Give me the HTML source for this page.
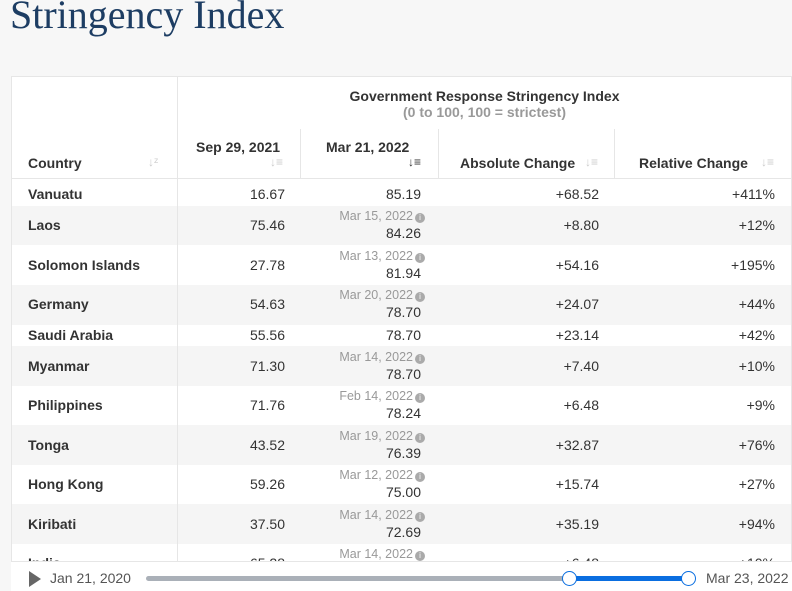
<!DOCTYPE html>
<html><head><meta charset="utf-8"><style>
*{margin:0;padding:0;box-sizing:border-box}
body{width:792px;height:591px;overflow:hidden;background:#f7f7f7;font-family:"Liberation Sans",sans-serif;color:#333;position:relative}
.title{position:absolute;left:10px;top:-9px;font-family:"Liberation Serif",serif;font-size:40px;color:#1d3d63;white-space:nowrap}
.card{position:absolute;left:11px;top:76px;width:781px;height:515px;background:#fff;border:1px solid #e6e6e6;overflow:hidden}
.a{position:absolute;white-space:nowrap;font-size:14px}
.r{text-align:right}
.b{font-weight:bold}
.g{color:#999;font-size:12.5px}
.row{position:absolute;left:0;width:781px}
.vl{position:absolute;width:1px;background:#e6e6e6}
.i{display:inline-block;width:10px;height:10px;border-radius:50%;background:#aaa;color:#fff;font-size:8px;line-height:10px;text-align:center;margin-left:2px;vertical-align:0}
.s{color:#ccc;font-size:12px}
</style></head><body>
<div class="title">Stringency Index</div>
<div class="card">
<div class="row" style="top:129px;height:39px;background:#f5f5f5"></div>
<div class="row" style="top:208px;height:40px;background:#f5f5f5"></div>
<div class="row" style="top:269px;height:40px;background:#f5f5f5"></div>
<div class="row" style="top:348px;height:40px;background:#f5f5f5"></div>
<div class="row" style="top:427px;height:40px;background:#f5f5f5"></div>
<div class="row" style="top:101px;height:1px;background:#e6e6e6"></div>
<div class="vl" style="left:165px;top:0;height:515px"></div>
<div class="vl" style="left:288px;top:52px;height:49px"></div>
<div class="vl" style="left:426px;top:52px;height:49px"></div>
<div class="vl" style="left:602px;top:52px;height:49px"></div>
<div class="a b" style="left:165px;width:615px;text-align:center;top:11px">Government Response Stringency Index</div>
<div class="a b" style="left:165px;width:615px;text-align:center;top:27px;color:#999">(0 to 100, 100 = strictest)</div>
<div class="a b" style="left:16px;top:78px">Country</div><div class="a s" style="left:136px;top:78px">↓ᶻ</div>
<div class="a b" style="left:184px;top:62px">Sep 29, 2021</div><div class="a s" style="left:258px;top:78px">↓≡</div>
<div class="a b" style="left:314px;top:62px">Mar 21, 2022</div><div class="a" style="left:396px;top:78px;color:#333;font-size:12px">↓≡</div>
<div class="a b" style="left:448px;top:78px">Absolute Change</div><div class="a s" style="left:573px;top:78px">↓≡</div>
<div class="a b" style="left:627px;top:78px">Relative Change</div><div class="a s" style="left:749px;top:78px">↓≡</div>
<div id="rows"></div>
</div>
<div style="position:absolute;left:11px;top:561px;width:781px;height:30px;background:#fff;border-top:1px solid #e6e6e6"></div>
<div style="position:absolute;left:29px;top:571px;width:0;height:0;border-left:12px solid #666;border-top:8px solid transparent;border-bottom:8px solid transparent"></div>
<div class="a" style="left:50px;top:570px;color:#555">Jan 21, 2020</div>
<div style="position:absolute;left:146px;top:576px;width:544px;height:5px;background:#aab0b8;border-radius:3px"></div>
<div style="position:absolute;left:570px;top:576px;width:119px;height:5px;background:#0a6ee0"></div>
<div style="position:absolute;left:562px;top:571px;width:15px;height:15px;border-radius:50%;background:#fff;border:1.5px solid #0a6ee0"></div>
<div style="position:absolute;left:681px;top:571px;width:15px;height:15px;border-radius:50%;background:#fff;border:1.5px solid #0a6ee0"></div>
<div class="a" style="left:706px;top:570px;color:#555">Mar 23, 2022</div>
<script>
var d=[["Vanuatu","16.67","","85.19","+68.52","+411%",110],
["Laos","75.46","Mar 15, 2022","84.26","+8.80","+12%",141],
["Solomon Islands","27.78","Mar 13, 2022","81.94","+54.16","+195%",181],
["Germany","54.63","Mar 20, 2022","78.70","+24.07","+44%",220],
["Saudi Arabia","55.56","","78.70","+23.14","+42%",251],
["Myanmar","71.30","Mar 14, 2022","78.70","+7.40","+10%",282],
["Philippines","71.76","Feb 14, 2022","78.24","+6.48","+9%",321],
["Tonga","43.52","Mar 19, 2022","76.39","+32.87","+76%",361],
["Hong Kong","59.26","Mar 12, 2022","75.00","+15.74","+27%",400],
["Kiribati","37.50","Mar 14, 2022","72.69","+35.19","+94%",440],
["India","65.28","Mar 14, 2022","","+6.48","+10%",479]];
var h="";d.forEach(function(r){var y=r[6];
h+='<div class="a b" style="left:16px;top:'+(y-1)+'px">'+r[0]+'</div>';
h+='<div class="a r" style="right:506px;top:'+(y-1)+'px">'+r[1]+'</div>';
if(r[2]){h+='<div class="a g r" style="right:366px;top:'+(y-9)+'px">'+r[2]+'<span class="i">i</span></div>';
h+='<div class="a r" style="right:370px;top:'+(y+7)+'px">'+r[3]+'</div>';}
else h+='<div class="a r" style="right:370px;top:'+(y-1)+'px">'+r[3]+'</div>';
h+='<div class="a r" style="right:192px;top:'+(y-1)+'px">'+r[4]+'</div>';
h+='<div class="a r" style="right:16px;top:'+(y-1)+'px">'+r[5]+'</div>';});
document.getElementById("rows").innerHTML=h;
</script>
</body></html>
